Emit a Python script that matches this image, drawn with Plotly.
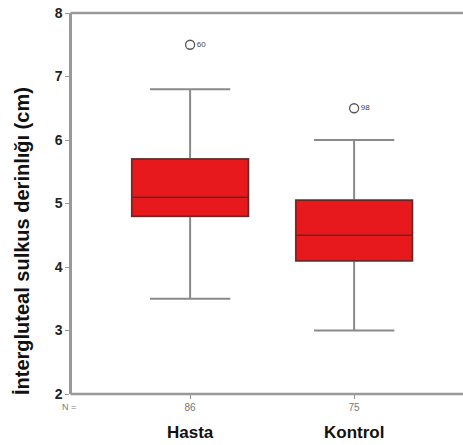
import plotly.graph_objects as go

groups = ["Hasta", "Kontrol"]
n_counts = [86, 75]
lower_whisker = [3.5, 3.0]
q1 = [4.8, 4.1]
median = [5.1, 4.5]
q3 = [5.7, 5.05]
upper_whisker = [6.8, 6.0]
outlier_values = [7.5, 6.5]
outlier_ids = ["60", "98"]
y_ticks = [2, 3, 4, 5, 6, 7, 8]

pos = list(range(len(groups)))
BOXW = 0.71
FONT = "Liberation Sans, Arial"

W, H = 463, 445
ML, MR, MT, MB = 72, 8, 13, 51
pw, ph = W - ML - MR, H - MT - MB

def px_x(x):
    return (x - ML) / pw

def px_y(y):
    return (H - MB - y) / ph

fig = go.Figure()
fig.add_trace(go.Box(
    x=pos, q1=q1, median=median, q3=q3,
    lowerfence=lower_whisker, upperfence=upper_whisker,
    width=BOXW, whiskerwidth=0.69,
    fillcolor="#e8191c", line=dict(color="#8a8a8a", width=2),
    boxpoints=False, hoverinfo="skip", showlegend=False,
))
fig.add_trace(go.Box(
    x=pos, q1=q1, median=median, q3=q3,
    lowerfence=q1, upperfence=q3,
    width=BOXW, whiskerwidth=0,
    fillcolor="#e8191c", line=dict(color="#6a2424", width=1.5),
    boxpoints=False, hoverinfo="skip", showlegend=False,
))
fig.add_trace(go.Scatter(
    x=pos, y=outlier_values, mode="markers+text",
    text=outlier_ids, textposition="middle right",
    textfont=dict(family=FONT, size=8, color="#444"),
    marker=dict(symbol="circle-open", size=9, color="#555", line=dict(width=1.3)),
    showlegend=False, hoverinfo="skip", cliponaxis=False,
))

annotations = [
    dict(text="<b>İntergluteal sulkus derinlığı (cm)</b>", x=px_x(22), y=px_y(241),
         xref="paper", yref="paper", xanchor="center", yanchor="middle",
         showarrow=False, textangle=-90,
         font=dict(family=FONT, size=20, color="#111")),
    dict(text="N =", x=px_x(69), y=px_y(407), xref="paper", yref="paper",
         xanchor="center", yanchor="middle", showarrow=False,
         font=dict(family=FONT, size=9, color="#777")),
]
for p, g in zip(pos, groups):
    annotations.append(dict(text="<b>%s</b>" % g, x=p, y=px_y(432),
                            xref="x", yref="paper", xanchor="center", yanchor="middle",
                            showarrow=False,
                            font=dict(family=FONT, size=17, color="#111")))

x_end = 1 + (MR + 2) / pw
x_start = -1.5 / pw
fig.update_layout(
    width=W, height=H,
    margin=dict(l=ML, r=MR, t=MT, b=MB, autoexpand=False),
    plot_bgcolor="white", paper_bgcolor="white",
    boxmode="overlay",
    annotations=annotations,
    shapes=[
        dict(type="line", xref="paper", yref="paper", x0=x_start, x1=x_end, y0=1, y1=1,
             line=dict(color="#999", width=2.5)),
        dict(type="line", xref="paper", yref="paper", x0=x_start, x1=x_end, y0=0, y1=0,
             line=dict(color="#999", width=2.5)),
    ],
    xaxis=dict(range=[-0.72, 1.615], tickvals=pos, ticktext=[str(v) for v in n_counts],
               showline=False,
               ticks="outside", ticklen=4, tickcolor="#999", tickwidth=1,
               showgrid=False, zeroline=False, automargin=False,
               tickfont=dict(family=FONT, size=10, color="#777")),
    yaxis=dict(range=[2, 8], tickvals=y_ticks, ticktext=["<b>%d</b>" % v for v in y_ticks],
               showline=True, linecolor="#999", linewidth=2.5, mirror=False,
               ticks="outside", ticklen=4, tickcolor="#999", tickwidth=1,
               showgrid=False, zeroline=False, automargin=False,
               tickfont=dict(family=FONT, size=14, color="#222")),
)

fig.write_html("out.html")
